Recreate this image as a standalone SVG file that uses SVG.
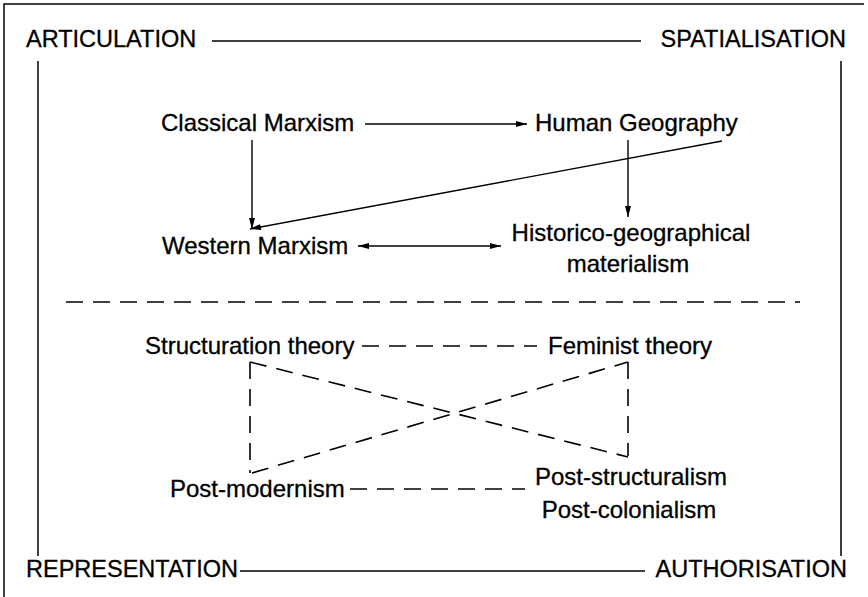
<svg xmlns="http://www.w3.org/2000/svg" width="868" height="597" viewBox="0 0 868 597">
<defs>
<marker id="ah" viewBox="0 0 11 6" refX="11" refY="3" markerWidth="11" markerHeight="6" markerUnits="userSpaceOnUse" orient="auto-start-reverse">
<path d="M0,0 L11,3 L0,6 Z" fill="#000"/>
</marker>
<style>
.t{font-family:"Liberation Sans",Arial,sans-serif;font-size:24px;fill:#000;stroke:#000;stroke-width:0.3}
.h{font-family:"Liberation Sans",Arial,sans-serif;font-size:23.5px;fill:#000;stroke:#000;stroke-width:0.3}
.s{stroke:#000;stroke-width:1.5;fill:none}
.d{stroke:#000;stroke-width:1.6;fill:none;stroke-dasharray:17 10}
.a{stroke:#000;stroke-width:1.4;fill:none;marker-end:url(#ah)}
.b{stroke:#000;stroke-width:1.4;fill:none;marker-end:url(#ah);marker-start:url(#ah)}
</style>
</defs>
<rect width="868" height="597" fill="#fff"/>
<g id="frame">
<path class="s" d="M4,597 V4 H864" stroke-width="2"/>
<path class="s" d="M38,61 V556 M841,61 V556"/>
<path class="s" d="M212,41 H641 M240,571 H645"/>
<path class="d" d="M66,302 H800"/>
</g>
<g id="labels">
<text class="h" x="26" y="47">ARTICULATION</text>
<text class="h" x="846" y="47" text-anchor="end">SPATIALISATION</text>
<text class="h" x="26" y="577">REPRESENTATION</text>
<text class="h" x="847" y="577" text-anchor="end">AUTHORISATION</text>
</g>
<g id="classical-marxism"><text class="t" x="161" y="131">Classical Marxism</text></g>
<g id="human-geography"><text class="t" x="535" y="131">Human Geography</text></g>
<g id="western-marxism"><text class="t" x="162" y="254">Western Marxism</text></g>
<g id="historico-geographical-materialism"><text class="t" x="631" y="241" text-anchor="middle">Historico-geographical</text><text class="t" x="628" y="272" text-anchor="middle">materialism</text></g>
<g id="structuration-theory"><text class="t" x="145" y="354">Structuration theory</text></g>
<g id="feminist-theory"><text class="t" x="548" y="354">Feminist theory</text></g>
<g id="post-modernism"><text class="t" x="170" y="497">Post-modernism</text></g>
<g id="post-structuralism"><text class="t" x="631" y="485" text-anchor="middle">Post-structuralism</text><text class="t" x="629" y="518" text-anchor="middle">Post-colonialism</text></g>
<g id="connectors">
<line class="a" x1="365" y1="124" x2="527" y2="124"/>
<line class="a" x1="252" y1="140" x2="252" y2="229"/>
<line class="a" x1="722" y1="141" x2="250" y2="229"/>
<line class="a" x1="628" y1="140" x2="628" y2="217"/>
<line class="b" x1="358" y1="246" x2="501" y2="246"/>
<line class="d" x1="362" y1="346" x2="537" y2="346"/>
<line class="d" x1="250" y1="362" x2="250" y2="473"/>
<line class="d" x1="628" y1="362" x2="628" y2="456"/>
<line class="d" x1="250" y1="362" x2="628" y2="457"/>
<line class="d" x1="252" y1="473" x2="628" y2="362"/>
<line class="d" x1="350" y1="489" x2="525" y2="489"/>
</g>
</svg>
